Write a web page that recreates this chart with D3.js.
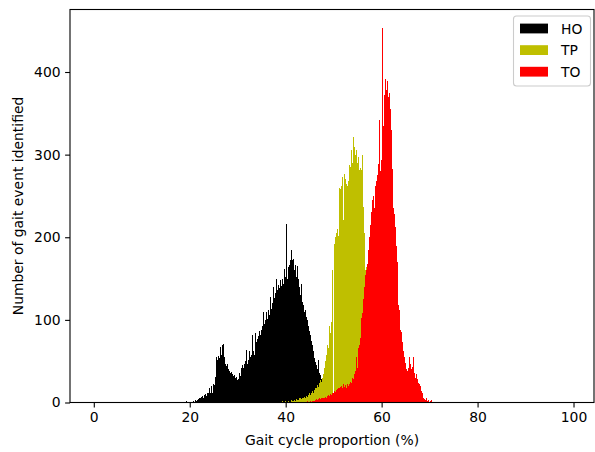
<!DOCTYPE html>
<html>
<head>
<meta charset="utf-8">
<script src="https://cdn.jsdelivr.net/npm/d3@7"></script>
<style>
  body { margin: 0; background: #fff; }
  svg { display: block; font-family: "DejaVu Sans", sans-serif; }
</style>
</head>
<body>
<div id="chart"></div>
<script>
// histogram counts, bins of 0.2 % gait cycle
const binWidth = 0.2;

const hoStart = 18.0;
const hoCounts = [
  0,0,0,0,0,0,2,0,0,1,0,1,0,2,1,1,3,2,3,4,6,5,7,8,6,
  9,10,8,12,11,17,11,20,12,22,21,31,55,52,56,50,54,67,58,69,71,55,47,44,46,
  40,38,36,37,35,32,33,30,31,27,28,36,32,42,45,38,42,47,50,63,46,52,62,55,58,
  82,62,58,84,73,77,80,86,82,88,92,109,95,100,98,109,101,112,106,128,113,120,140,126,133,
  150,136,142,139,148,141,150,144,162,152,216,150,164,167,158,172,184,172,174,160,166,152,165,150,140,
  130,144,122,118,110,112,104,100,92,86,82,74,70,62,58,54,49,45,40,52,36,33,29,26,22,
  20,18,16,14,12,10,9,8,7,6,5,4,4,3,3,2,2,1,1,1,0,1,0,0,0
];

const tpStart = 28.0;
const tpCounts = [
  0,0,0,0,0,1,0,0,0,0,0,0,0,0,0,0,0,0,0,0,0,1,0,0,0,
  0,0,0,0,0,0,1,0,0,1,0,1,0,0,1,0,0,1,0,0,1,0,1,0,0,
  1,0,1,0,1,0,2,1,0,2,1,1,2,0,2,1,3,2,2,3,2,4,3,3,5,
  5,4,6,5,7,6,8,7,9,11,9,12,14,12,16,15,18,17,21,19,24,27,25,30,35,
  42,50,57,69,66,93,84,98,160,12,192,200,205,229,210,201,260,258,262,273,221,277,270,265,262,
  268,287,285,305,290,321,309,300,305,290,297,282,284,317,282,300,237,205,160,164,130,100,80,60,45,
  35,28,22,18,14,11,9,7,6,5,4,3,3,2,2,1,1,1,0,1,0,0,0,0,0
];

const toStart = 38.0;
const toCounts = [
  0,0,0,0,0,0,0,0,0,0,0,0,0,0,1,0,0,0,1,0,0,1,0,0,1,
  0,1,0,1,1,0,1,2,1,1,2,1,2,2,3,2,3,4,3,4,5,4,5,6,5,
  6,7,6,8,9,8,10,9,11,12,14,13,15,14,16,18,17,19,20,18,22,19,21,18,22,
  20,22,25,24,30,28,35,38,55,42,66,70,78,92,102,108,125,140,154,160,168,185,200,215,230,
  245,250,236,262,268,275,289,342,280,293,453,335,372,385,392,378,389,370,375,355,330,283,235,228,212,
  190,170,118,112,88,85,73,62,55,48,40,38,45,42,55,47,40,43,55,36,30,34,28,24,22,
  20,14,12,5,4,3,5,2,3,1,2,3,1,0,1,1,0,0,1,0,0,0,0,1,0
];

const seriesNames = ["HO", "TP", "TO"];
const seriesColors = ["#000000", "#bfbf00", "#ff0000"];
const xTicks = [0, 20, 40, 60, 80, 100];
const yTicks = [0, 100, 200, 300, 400];

const W = 595, H = 452;
const margin = { top: 9.5, right: 1, bottom: 49.5, left: 70 };
const width = W - margin.left - margin.right,
      height = H - margin.top - margin.bottom;
const fs = 13.9;

const svg = d3.select("#chart").append("svg")
  .attr("width", W)
  .attr("height", H);

const g = svg.append("g")
  .attr("transform", `translate(${margin.left},${margin.top})`);

const allCounts = hoCounts.concat(tpCounts, toCounts);
const x = d3.scaleLinear().domain([-4.96, 104.27]).range([0, width]);
const y = d3.scaleLinear().domain([0, d3.max(allCounts) * 1.05]).range([height, 0]);

// turn counts into step points (left edge of each bin + closing edge)
function toBins(start, counts) {
  const pts = counts.map((n, i) => ({ x0: start + i * binWidth, n }));
  pts.push({ x0: start + counts.length * binWidth, n: 0 });
  return pts;
}

const series = [
  toBins(hoStart, hoCounts),
  toBins(tpStart, tpCounts),
  toBins(toStart, toCounts)
];

const area = d3.area()
  .x(d => x(d.x0))
  .y0(y(0))
  .y1(d => y(d.n))
  .curve(d3.curveStepAfter);

g.selectAll("path.hist")
  .data(series)
  .join("path")
  .attr("class", "hist")
  .attr("d", area)
  .attr("fill", (d, i) => seriesColors[i])
  .attr("shape-rendering", "crispEdges");

// axes
const xAxis = g.append("g")
  .attr("transform", `translate(0,${height})`)
  .call(d3.axisBottom(x).tickValues(xTicks).tickSize(4.9).tickPadding(4.5));
const yAxis = g.append("g")
  .call(d3.axisLeft(y).tickValues(yTicks).tickSize(4.9).tickPadding(4.5));

[xAxis, yAxis].forEach(a => {
  a.select(".domain").remove();
  a.selectAll("line").attr("stroke", "#000").attr("stroke-width", 1.1);
  a.selectAll("text").attr("font-size", fs).attr("fill", "#000")
    .attr("font-family", "DejaVu Sans, sans-serif");
});

// frame
g.append("rect")
  .attr("width", width)
  .attr("height", height)
  .attr("fill", "none")
  .attr("stroke", "#000")
  .attr("stroke-width", 1.1);

// axis labels
svg.append("text")
  .attr("x", margin.left + width / 2)
  .attr("y", 444.5)
  .attr("text-anchor", "middle")
  .attr("font-size", fs)
  .text("Gait cycle proportion (%)");

svg.append("text")
  .attr("transform", `translate(23,${margin.top + height / 2}) rotate(-90)`)
  .attr("text-anchor", "middle")
  .attr("font-size", fs)
  .text("Number of gait event identified");

// legend
const legend = svg.append("g");
legend.append("rect")
  .attr("x", 513.5).attr("y", 16)
  .attr("width", 77).attr("height", 70)
  .attr("rx", 3)
  .attr("fill", "#fff").attr("fill-opacity", 0.8)
  .attr("stroke", "#cccccc").attr("stroke-width", 1.1);

seriesNames.forEach((name, i) => {
  const cy = 28.5 + i * 21.6;
  legend.append("rect")
    .attr("x", 520).attr("y", cy - 4.9)
    .attr("width", 28).attr("height", 9.8)
    .attr("fill", seriesColors[i]);
  legend.append("text")
    .attr("x", 561).attr("y", cy + 5)
    .attr("font-size", fs)
    .text(name);
});
</script>
</body>
</html>
